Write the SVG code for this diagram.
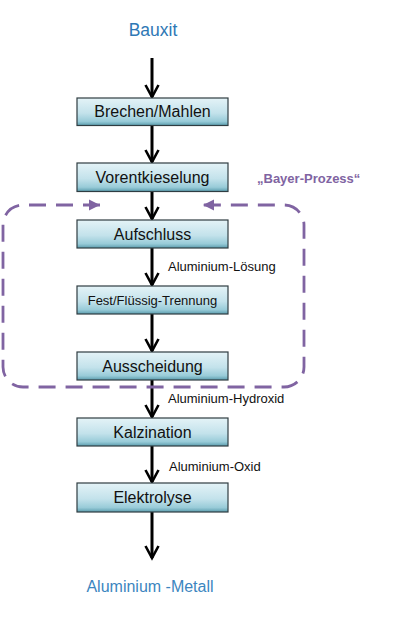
<svg xmlns="http://www.w3.org/2000/svg" width="398" height="618" viewBox="0 0 398 618">
<style>
.box{fill:url(#g);stroke:#2f3d42;stroke-width:1.2}
.bl{font-family:"Liberation Sans",Arial,sans-serif;font-size:16px;fill:#111;text-anchor:middle}
.el{font-family:"Liberation Sans",Arial,sans-serif;font-size:13px;fill:#111}
.flow{stroke:#000;stroke-width:3;fill:none;marker-end:url(#v)}
.bay{fill:none;stroke:#8064a2;stroke-width:2.8;stroke-dasharray:17 10;marker-start:url(#t);marker-end:url(#t)}
</style>
<defs>
<linearGradient id="g" x1="0" y1="0" x2="0" y2="1">
<stop offset="0" stop-color="#e4f3f7"/>
<stop offset="0.55" stop-color="#c3e2eb"/>
<stop offset="0.85" stop-color="#98cbd8"/>
<stop offset="1" stop-color="#5a9cad"/>
</linearGradient>
<marker id="v" markerUnits="userSpaceOnUse" markerWidth="20" markerHeight="20" refX="0" refY="0" orient="auto" overflow="visible">
<path d="M-12,-6.5 L0,0 L-12,6.5" fill="none" stroke="#000" stroke-width="2.6"/>
</marker>
<marker id="t" markerUnits="userSpaceOnUse" markerWidth="20" markerHeight="20" refX="0" refY="0" orient="auto-start-reverse" overflow="visible">
<path d="M-11,-5.5 L0,0 L-11,5.5 Z" fill="#8064a2"/>
</marker>
</defs>
<g id="connectors">
<line class="flow" x1="152" y1="58" x2="152" y2="97"/>
<line class="flow" x1="152" y1="126" x2="152" y2="162"/>
<line class="flow" x1="152" y1="192" x2="152" y2="219"/>
<line class="flow" x1="152" y1="248" x2="152" y2="285"/>
<line class="flow" x1="152" y1="314" x2="152" y2="351"/>
<line class="flow" x1="152" y1="380" x2="152" y2="417"/>
<line class="flow" x1="152" y1="446" x2="152" y2="482"/>
<line class="flow" x1="152" y1="512" x2="152" y2="558"/>
<text class="el" x="168" y="271">Aluminium-Lösung</text>
<text class="el" x="168" y="403">Aluminium-Hydroxid</text>
<text class="el" x="169" y="471">Aluminium-Oxid</text>
</g>
<g id="bayer">
<path class="bay" d="M100,205 L23,205 A20,20 0 0 0 3,225 L3,367 A20,20 0 0 0 23,387 L284,387 A20,20 0 0 0 304,367 L304,225 A20,20 0 0 0 284,205 L203,205"/>
<text x="257" y="183" font-family="'Liberation Sans',Arial,sans-serif" font-size="13" font-weight="bold" fill="#8064a2">„Bayer-Prozess“</text>
</g>
<g id="bauxit"><text x="153" y="36" font-family="'Liberation Sans',Arial,sans-serif" font-size="17.5" fill="#2e78b5" text-anchor="middle">Bauxit</text></g>
<g id="brechen"><rect class="box" x="77" y="98" width="151" height="27.5"/><text class="bl" x="152.5" y="117" font-size="15.5">Brechen/Mahlen</text></g>
<g id="vorentkieselung"><rect class="box" x="77" y="163" width="151" height="28.5"/><text class="bl" x="152.5" y="182.5">Vorentkieselung</text></g>
<g id="aufschluss"><rect class="box" x="77" y="220" width="151" height="28"/><text class="bl" x="152.5" y="239.5">Aufschluss</text></g>
<g id="fest"><rect class="box" x="77" y="286" width="151" height="28"/><text class="bl" x="152.5" y="304.5" style="font-size:13px">Fest/Flüssig-Trennung</text></g>
<g id="ausscheidung"><rect class="box" x="77" y="352" width="151" height="28"/><text class="bl" x="152.5" y="371.5">Ausscheidung</text></g>
<g id="kalzination"><rect class="box" x="77" y="418" width="151" height="28"/><text class="bl" x="152.5" y="437.5">Kalzination</text></g>
<g id="elektrolyse"><rect class="box" x="77" y="483" width="151" height="29"/><text class="bl" x="152.5" y="503">Elektrolyse</text></g>
<g id="metall"><text x="150" y="592" font-family="'Liberation Sans',Arial,sans-serif" font-size="16" fill="#3c86c0" text-anchor="middle">Aluminium -Metall</text></g>
</svg>
